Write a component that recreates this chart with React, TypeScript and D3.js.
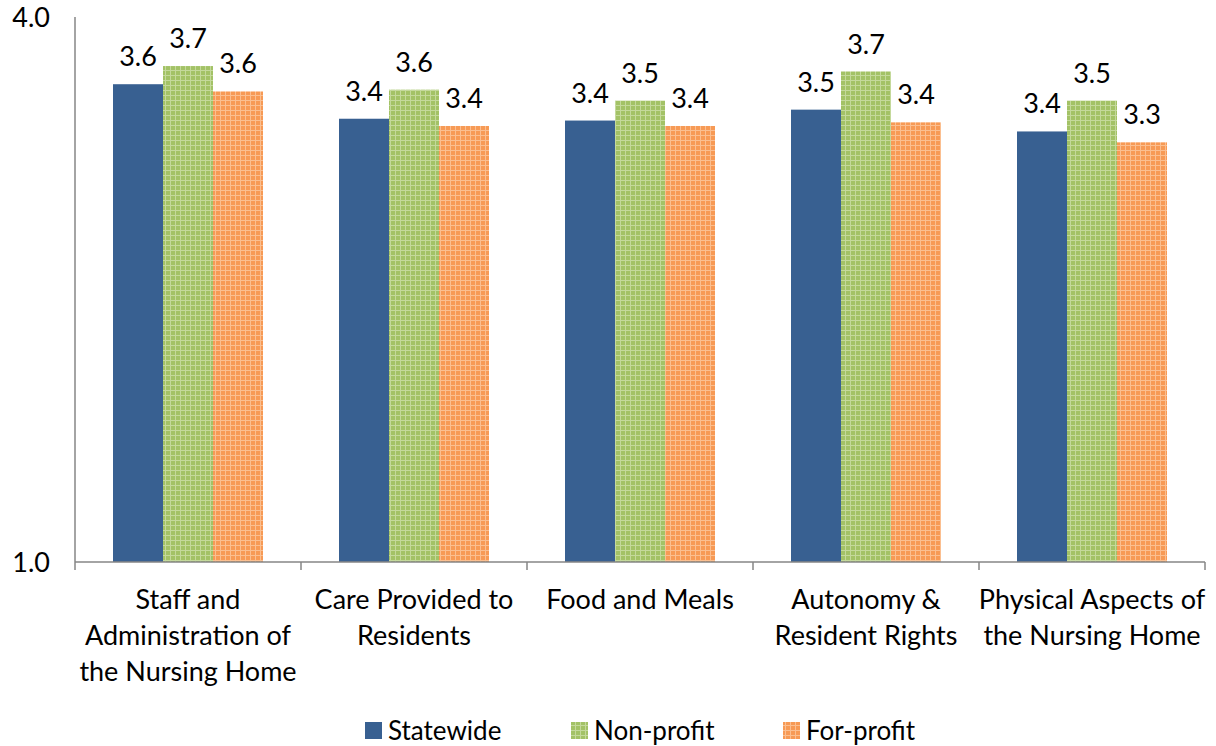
import * as d3 from 'd3'
import { useEffect, useRef } from 'react'

const categories = [
  ['Staff and', 'Administration of', 'the Nursing Home'],
  ['Care Provided to', 'Residents'],
  ['Food and Meals'],
  ['Autonomy &', 'Resident Rights'],
  ['Physical Aspects of', 'the Nursing Home'],
]
const seriesNames = ['Statewide', 'Non-profit', 'For-profit']
const statewide = [3.63, 3.44, 3.43, 3.49, 3.37]
const nonProfit = [3.73, 3.6, 3.54, 3.7, 3.54]
const forProfit = [3.59, 3.4, 3.4, 3.42, 3.31]
const yTicks = [1.0, 4.0]

export default function App() {
  const ref = useRef<SVGSVGElement>(null)
  useEffect(() => {
    const el = ref.current
    if (!el) return
    const svg = d3.select(el)
    svg.selectAll('*').remove()
    const font = 'Lato, "Open Sans", sans-serif'
    const fs = 27

    const defs = svg.append('defs')
    const mkPattern = (id: string, base: string, light: string) => {
      const p = defs.append('pattern').attr('id', id).attr('patternUnits', 'userSpaceOnUse')
        .attr('width', 5).attr('height', 5)
      p.append('rect').attr('width', 5).attr('height', 5).attr('fill', base)
      p.append('rect').attr('x', 0).attr('y', 0).attr('width', 5).attr('height', 1).attr('fill', light)
      p.append('rect').attr('x', 0).attr('y', 0).attr('width', 1).attr('height', 5).attr('fill', light)
    }
    mkPattern('pGreen', '#a3c266', '#c4d99b')
    mkPattern('pOrange', '#f79a55', '#fbbf90')
    const fills = ['#386091', 'url(#pGreen)', 'url(#pOrange)']

    const left = 75, right = 1205, top = 17, bottom = 562
    const x = d3.scaleBand<number>().domain(d3.range(categories.length)).range([left, right])
    const inner = d3.scaleBand<number>().domain([0, 1, 2]).range([0, 150])
    const y = d3.scaleLinear().domain([1, 4]).range([bottom, top])
    const series = [statewide, nonProfit, forProfit]

    const g = svg.append('g')
    series.forEach((vals, si) => {
      vals.forEach((v, ci) => {
        const bx = (x(ci) as number) + (x.bandwidth() - 150) / 2 + (inner(si) as number)
        g.append('rect').attr('x', bx).attr('y', y(v)).attr('width', inner.bandwidth())
          .attr('height', y(1) - y(v)).attr('fill', fills[si])
        g.append('text').attr('x', bx + inner.bandwidth() / 2).attr('y', y(v) - 18)
          .attr('text-anchor', 'middle').attr('font-family', font).attr('font-size', fs)
          .attr('fill', '#000').text(v.toFixed(1))
      })
    })

    // axes
    const axisColor = '#868686'
    svg.append('line').attr('x1', left).attr('x2', left).attr('y1', top).attr('y2', bottom)
      .attr('stroke', axisColor).attr('stroke-width', 1.5)
    svg.append('line').attr('x1', left).attr('x2', right).attr('y1', bottom).attr('y2', bottom)
      .attr('stroke', axisColor).attr('stroke-width', 1.5)
    d3.range(categories.length + 1).forEach((i) => {
      const tx = left + i * x.bandwidth()
      svg.append('line').attr('x1', tx).attr('x2', tx).attr('y1', bottom).attr('y2', bottom + 8)
        .attr('stroke', axisColor).attr('stroke-width', 1.5)
    })
    yTicks.forEach((t) => {
      svg.append('text').attr('x', 50).attr('y', y(t) + 10).attr('text-anchor', 'end')
        .attr('font-family', font).attr('font-size', fs).text(t.toFixed(1))
    })

    categories.forEach((lines, ci) => {
      const cx = (x(ci) as number) + x.bandwidth() / 2
      lines.forEach((ln, li) => {
        svg.append('text').attr('x', cx).attr('y', 609 + li * 36).attr('text-anchor', 'middle')
          .attr('font-family', font).attr('font-size', fs).text(ln)
      })
    })

    // legend
    const legendX = [365, 571, 783]
    seriesNames.forEach((name, i) => {
      svg.append('rect').attr('x', legendX[i]).attr('y', 722).attr('width', 17).attr('height', 17)
        .attr('fill', fills[i])
      svg.append('text').attr('x', legendX[i] + 23).attr('y', 740).attr('font-family', font)
        .attr('font-size', 26).text(name)
    })
  }, [])
  return (
    <svg ref={ref} width={1216} height={746} style={{ position: 'absolute', left: 0, top: 0 }} />
  )
}
